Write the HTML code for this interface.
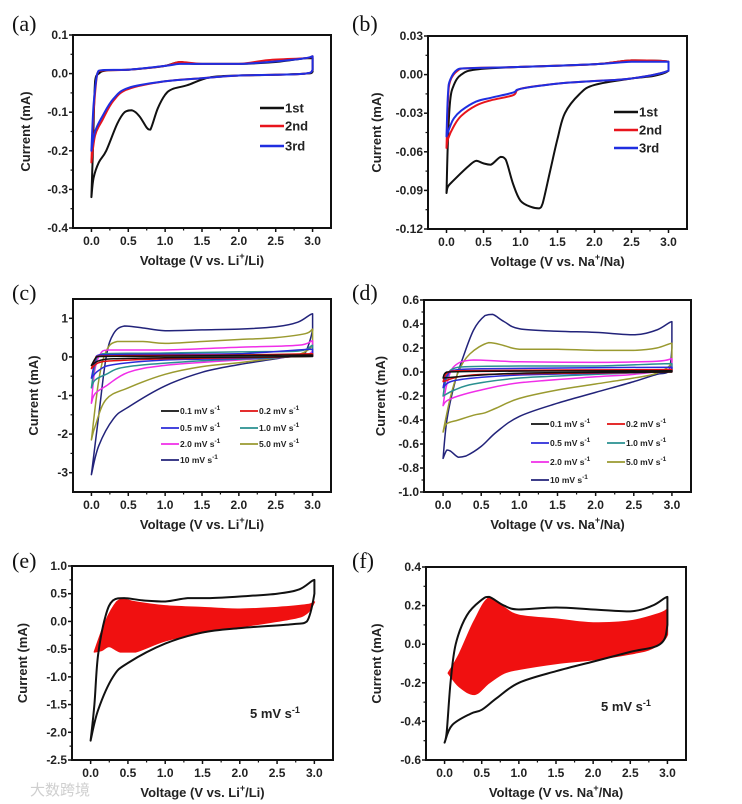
<!DOCTYPE html>
<html><head><meta charset="utf-8"><style>
html,body{margin:0;padding:0;background:#fff;}
svg{display:block;font-family:"Liberation Sans",sans-serif;}
.tk{font-size:12px;font-weight:bold;fill:#222;}
.ttl{font-size:13px;font-weight:bold;fill:#222;}
.lg{font-size:13px;font-weight:bold;fill:#222;}
.lg2{font-size:8.5px;font-weight:bold;fill:#222;}
.pl{font-family:"Liberation Serif",serif;font-size:22px;fill:#111;}
</style></head><body>
<svg id="fig" width="742" height="804" viewBox="0 0 742 804">
<text x="30" y="795" font-family="'Liberation Sans','Noto Sans CJK SC',sans-serif" font-size="15" fill="#cfcfcf">大数跨境</text>
</svg>
<script>
// ---------- data ----------
// panel a
const aFirstV=[0,0.02,0.05,0.1,0.2,0.5,0.8,1.0,1.2,1.4,2.0,2.5,2.9,3.0,3.0,2.9,2.5,2.0,1.6,1.3,1.1,1.0,0.9,0.8,0.75,0.65,0.55,0.45,0.35,0.2,0.1,0.03,0];
const aFirstI=[-0.32,-0.2,-0.02,0,0.008,0.01,0.015,0.02,0.03,0.025,0.025,0.03,0.04,0.04,0.005,0,-0.003,-0.005,-0.01,-0.03,-0.04,-0.055,-0.09,-0.145,-0.14,-0.11,-0.095,-0.1,-0.13,-0.2,-0.23,-0.27,-0.32];
const aSecondV=[0,0.03,0.08,0.15,0.5,1.0,1.2,1.5,2.0,2.4,2.9,3.0,3.0,2.9,2.5,2.0,1.5,1.0,0.5,0.3,0.15,0.05,0];
const aSecondI=[-0.23,-0.1,0,0.008,0.01,0.02,0.03,0.025,0.025,0.035,0.04,0.045,0.01,0,-0.003,-0.005,-0.012,-0.02,-0.04,-0.07,-0.12,-0.16,-0.23];
const aThirdV=[0,0.03,0.08,0.15,0.5,1.0,1.2,1.5,2.0,2.4,2.9,3.0,3.0,2.9,2.5,2.0,1.5,1.0,0.5,0.3,0.15,0.05,0];
const aThirdI=[-0.2,-0.08,0,0.009,0.01,0.02,0.025,0.025,0.025,0.03,0.04,0.045,0.01,0,-0.003,-0.005,-0.012,-0.02,-0.037,-0.065,-0.11,-0.15,-0.2];
// panel b
const bFirstV=[0,0.02,0.05,0.1,0.2,0.4,1.0,2.0,2.5,3.0,3.0,2.8,2.5,2.0,1.8,1.6,1.5,1.4,1.3,1.25,1.15,1.0,0.9,0.8,0.73,0.6,0.5,0.4,0.3,0.1,0.02,0];
const bFirstI=[-0.092,-0.05,-0.02,-0.008,0,0.004,0.006,0.008,0.011,0.01,0.003,-0.001,-0.003,-0.008,-0.015,-0.03,-0.05,-0.075,-0.1,-0.104,-0.103,-0.098,-0.085,-0.066,-0.064,-0.07,-0.069,-0.067,-0.071,-0.082,-0.087,-0.092];
const bSecondV=[0,0.02,0.05,0.15,0.3,1,2,2.5,3,3,2.5,2,1.5,1.0,0.9,0.6,0.4,0.2,0.1,0.02,0];
const bSecondI=[-0.057,-0.02,-0.005,0.003,0.005,0.006,0.008,0.011,0.01,0.003,-0.003,-0.005,-0.007,-0.011,-0.016,-0.02,-0.024,-0.032,-0.04,-0.05,-0.057];
const bThirdV=[0,0.02,0.05,0.15,0.3,1,2,2.5,3,3,2.5,2,1.5,1.0,0.9,0.6,0.4,0.2,0.1,0.05,0];
const bThirdI=[-0.048,-0.015,-0.004,0.004,0.005,0.006,0.008,0.01,0.01,0.003,-0.003,-0.005,-0.007,-0.011,-0.014,-0.018,-0.021,-0.028,-0.034,-0.04,-0.048];
// panel c
const c10V=[0,0.1,0.2,0.3,0.45,0.7,1.0,1.5,2.0,2.5,2.8,3.0,3.0,2.9,2.8,2.5,2.0,1.5,1.0,0.5,0.3,0.1,0];
const c10I=[-3.05,-1.5,0,0.6,0.8,0.75,0.68,0.7,0.72,0.78,0.9,1.12,0.7,0.1,0.05,-0.05,-0.2,-0.4,-0.75,-1.3,-1.6,-2.3,-3.05];
const c5V=[0,0.1,0.2,0.35,0.7,1.0,1.5,2.0,2.5,2.9,3.0,3.0,2.8,2.5,2.0,1.5,1.0,0.5,0.2,0.05,0];
const c5I=[-2.15,-0.6,0.15,0.4,0.4,0.35,0.4,0.45,0.5,0.6,0.72,0.3,0.05,-0.03,-0.15,-0.25,-0.45,-0.8,-1.1,-1.8,-2.15];
const c2V=[0,0.05,0.15,0.3,1,2,2.8,3.0,3,2.8,2.0,1.0,0.5,0.2,0.05,0];
const c2I=[-1.2,-0.3,0.15,0.18,0.18,0.25,0.3,0.42,0.15,0.02,-0.08,-0.22,-0.4,-0.75,-0.95,-1.2];
const c1V=[0,0.05,0.15,1.0,2.0,2.8,3.0,3,2.5,1.5,0.5,0.2,0.05,0];
const c1I=[-0.8,-0.2,0.08,0.1,0.13,0.15,0.3,0.08,-0.02,-0.1,-0.25,-0.45,-0.6,-0.8];
const c05V=[0,0.05,0.1,1,2,3.0,3,2,1,0.3,0.1,0];
const c05I=[-0.55,-0.1,0.05,0.07,0.08,0.2,0.05,-0.04,-0.08,-0.2,-0.35,-0.55];
const c02V=[0,0.05,0.1,1,2,3,3,2,1,0.3,0.1,0];
const c02I=[-0.3,-0.05,0.02,0.04,0.05,0.08,0.02,-0.02,-0.05,-0.1,-0.15,-0.3];
const c01V=[0,0.05,0.1,1,3,3,1,0.3,0.1,0];
const c01I=[-0.22,-0.05,0.01,0.02,0.05,0.01,-0.02,-0.05,-0.1,-0.22];
// panel d
const d10V=[0,0.05,0.15,0.25,0.4,0.55,0.65,0.8,1.0,1.5,2.0,2.5,2.8,3.0,3.0,2.95,2.8,2.5,2.0,1.5,1.0,0.7,0.5,0.3,0.2,0.1,0.05,0];
const d10I=[-0.72,-0.4,-0.1,0.1,0.35,0.47,0.48,0.42,0.36,0.34,0.33,0.31,0.35,0.42,0.2,0,-0.02,-0.08,-0.17,-0.26,-0.37,-0.5,-0.62,-0.7,-0.71,-0.66,-0.65,-0.72];
const d5V=[0,0.1,0.2,0.35,0.6,0.8,1.0,1.5,2.0,2.5,2.8,3.0,3,2.8,2.5,2.0,1.5,1.0,0.7,0.55,0.4,0.2,0.05,0];
const d5I=[-0.5,-0.2,0,0.15,0.245,0.22,0.19,0.19,0.18,0.18,0.2,0.24,0.08,-0.01,-0.05,-0.1,-0.15,-0.22,-0.3,-0.34,-0.36,-0.4,-0.43,-0.5];
const d2V=[0,0.05,0.15,0.4,1,2,2.8,3,3,2.5,2,1,0.5,0.2,0.05,0];
const d2I=[-0.28,-0.1,0.05,0.1,0.085,0.08,0.09,0.11,0.03,-0.02,-0.04,-0.09,-0.15,-0.2,-0.24,-0.28];
const d1V=[0,0.05,0.2,1,2,3,3,2,1,0.4,0.15,0];
const d1I=[-0.2,-0.05,0.04,0.05,0.05,0.07,0.01,-0.02,-0.05,-0.1,-0.15,-0.2];
const d05V=[0,0.05,0.2,1,3,3,2,1,0.4,0.1,0];
const d05I=[-0.13,-0.03,0.02,0.03,0.04,0.005,-0.01,-0.025,-0.05,-0.08,-0.13];
const d02V=[0,0.05,0.2,3,3,1,0.3,0];
const d02I=[-0.08,-0.01,0.01,0.02,0,-0.015,-0.03,-0.08];
const d01V=[0,0.05,3,3,1,0];
const d01I=[-0.05,0,0.01,0,-0.01,-0.05];
// panel e
const eBlackV=[0,0.05,0.1,0.2,0.3,0.45,0.7,1.0,1.3,1.6,2.0,2.5,2.8,3.0,3.0,2.9,2.7,2.0,1.5,1.0,0.5,0.3,0.1,0];
const eBlackI=[-2.15,-1.5,-0.6,0.1,0.38,0.42,0.38,0.36,0.42,0.42,0.45,0.5,0.58,0.75,0.5,0,-0.05,-0.12,-0.2,-0.4,-0.75,-1.0,-1.6,-2.15];
const eRedV=[0.05,0.2,0.35,0.45,0.6,1.0,1.5,2.0,2.5,2.9,3.0,3.0,2.9,2.7,2.0,1.5,1.0,0.6,0.4,0.25,0.15,0.05];
const eRedI=[-0.55,0,0.35,0.4,0.35,0.28,0.25,0.22,0.25,0.3,0.35,0.35,0.15,0.05,-0.1,-0.2,-0.35,-0.55,-0.55,-0.45,-0.52,-0.55];
// panel f
const fBlackV=[0,0.03,0.08,0.15,0.3,0.5,0.6,0.8,1.0,1.5,2.0,2.5,2.8,3.0,3.0,2.9,2.5,2.0,1.5,1.0,0.7,0.5,0.35,0.1,0];
const fBlackI=[-0.51,-0.45,-0.2,0,0.15,0.23,0.245,0.2,0.18,0.19,0.18,0.17,0.2,0.245,0.1,0,-0.04,-0.09,-0.14,-0.2,-0.28,-0.34,-0.36,-0.42,-0.51];
const fRedV=[0.05,0.2,0.4,0.6,0.8,1.0,1.5,2.0,2.5,2.9,3.0,3.0,2.8,2.5,2.0,1.5,1.0,0.8,0.6,0.4,0.2,0.05];
const fRedI=[-0.15,-0.05,0.12,0.24,0.19,0.15,0.13,0.11,0.12,0.16,0.18,0.05,-0.02,-0.05,-0.08,-0.1,-0.13,-0.15,-0.2,-0.26,-0.22,-0.15];
const xTickLabels=["0.0","0.5","1.0","1.5","2.0","2.5","3.0"];
const aYTicks=[0.1,0.0,-0.1,-0.2,-0.3,-0.4];
const bYTicks=[0.03,0.00,-0.03,-0.06,-0.09,-0.12];
const cYTicks=[1,0,-1,-2,-3];
const dYTicks=[0.6,0.4,0.2,0.0,-0.2,-0.4,-0.6,-0.8,-1.0];
const eYTicks=[1.0,0.5,0.0,-0.5,-1.0,-1.5,-2.0,-2.5];
const fYTicks=[0.4,0.2,0.0,-0.2,-0.4,-0.6];
const cLegend=["0.1 mV s","0.2 mV s","0.5 mV s","1.0 mV s","2.0 mV s","5.0 mV s","10 mV s"];

// ---------- drawing ----------
const NS="http://www.w3.org/2000/svg";
const svg=document.getElementById('fig');
function mk(tag,attrs,parent){const e=document.createElementNS(NS,tag);for(const k in attrs)e.setAttribute(k,attrs[k]);(parent||svg).appendChild(e);return e;}
const clamp=(v,a,b)=>Math.max(Math.min(a,b),Math.min(Math.max(a,b),v));
function smooth(P,closed){
  let d='M'+P[0][0].toFixed(1)+','+P[0][1].toFixed(1);
  const n=P.length,t=0.35;
  for(let i=0;i<n-1;i++){
    const p0=P[Math.max(0,i-1)],p1=P[i],p2=P[i+1],p3=P[Math.min(n-1,i+2)];
    let c1=[p1[0]+(p2[0]-p0[0])*t/2,p1[1]+(p2[1]-p0[1])*t/2];
    let c2=[p2[0]-(p3[0]-p1[0])*t/2,p2[1]-(p3[1]-p1[1])*t/2];
    c1=[clamp(c1[0],p1[0],p2[0]),clamp(c1[1],p1[1],p2[1])];
    c2=[clamp(c2[0],p1[0],p2[0]),clamp(c2[1],p1[1],p2[1])];
    d+='C'+c1[0].toFixed(1)+','+c1[1].toFixed(1)+' '+c2[0].toFixed(1)+','+c2[1].toFixed(1)+' '+p2[0].toFixed(1)+','+p2[1].toFixed(1);
  }
  return d+(closed?'Z':'');
}
function panel(p){
  const g=mk('g',{});
  
  
  const sx=v=>p.x0+(v-(-0.25))/(3.5)*(p.x1-p.x0);
  const sy=v=>p.y1-(v-p.ymin)/(p.ymax-p.ymin)*(p.y1-p.y0);
  p.sx=sx;p.sy=sy;p.g=g;
  xTickLabels.forEach((t,i)=>{const v=i*0.5;const X=sx(v);
    mk('line',{x1:X,x2:X,y1:p.y1,y2:p.y1+4,stroke:'#111','stroke-width':1.5},g);
    if(i<6)mk('line',{x1:sx(v+0.25),x2:sx(v+0.25),y1:p.y1,y2:p.y1+2.5,stroke:'#111','stroke-width':1.2},g);
    const tx=mk('text',{x:X,y:p.y1+17,'text-anchor':'middle',class:'tk'},g);tx.textContent=t;
    
    
  });
  p.yt.forEach((v,i)=>{const Y=sy(v);
    mk('line',{x1:p.x0-4,x2:p.x0,y1:Y,y2:Y,stroke:'#111','stroke-width':1.5},g);
    if(i<p.yt.length-1){const m=(v+p.yt[i+1])/2;mk('line',{x1:p.x0-2.5,x2:p.x0,y1:sy(m),y2:sy(m),stroke:'#111','stroke-width':1.2},g);}
    const tx=mk('text',{x:p.x0-5,y:Y+4,'text-anchor':'end',class:'tk'},g);tx.textContent=p.fmt(v);
    
    
  });
  (p.fills||[]).forEach(s=>{
    const P=s.v.map((v,i)=>[sx(v),sy(s.i[i])]);
    const pg=mk('path',{d:smooth(P,true),fill:s.c,stroke:s.c,'stroke-width':1.5,'stroke-linejoin':'round'},g);
    
    
  });
  p.series.forEach(s=>{
    const P=s.v.map((v,i)=>[sx(v),sy(s.i[i])]);
    const pl=mk('path',{d:smooth(P,false),fill:'none',stroke:s.c,'stroke-width':s.w||2,'stroke-linejoin':'round','stroke-linecap':'round'},g);
    
    
  });
  mk('rect',{x:p.x0,y:p.y0,width:p.x1-p.x0,height:p.y1-p.y0,fill:'none',stroke:'#111','stroke-width':2},g);
  const xt=mk('text',{x:(p.x0+p.x1)/2,y:p.y1+37,'text-anchor':'middle',class:'ttl'},g);
  xt.innerHTML='Voltage (V vs. '+p.ion+'<tspan dy="-6" font-size="9">+</tspan><tspan dy="6">/'+p.ion+')</tspan>';
  
  
  const yt=mk('text',{x:0,y:0,'text-anchor':'middle',class:'ttl',transform:'translate('+p.ytx+','+((p.y0+p.y1)/2)+') rotate(-90)'},g);
  yt.textContent='Current (mA)';
  
  
  const lb=mk('text',{x:p.lx,y:p.ly,class:'pl'},g);lb.textContent='('+p.id+')';
  
  
  return p;
}
const f2=v=>v.toFixed(2), f1=v=>v.toFixed(1), f0=v=>v.toFixed(0);
const blk='#111',red='#e8141c',blu='#1f2ee0';
const cc={k:'#111',r:'#e01010',b:'#2b2bd8',t:'#2a9090',m:'#f02ee8',o:'#9a9a30',n:'#22237a'};

const A=panel({id:'a',x0:73,x1:331,y0:35,y1:228,ymin:-0.4,ymax:0.1,yt:aYTicks,fmt:f1,ion:'Li',ytx:30,lx:12,ly:31,
 series:[{name:'curve-1st',v:aFirstV,i:aFirstI,c:blk},{name:'curve-2nd',v:aSecondV,i:aSecondI,c:red},{name:'curve-3rd',v:aThirdV,i:aThirdI,c:blu}]});
const B=panel({id:'b',x0:428,x1:687,y0:36,y1:229,ymin:-0.12,ymax:0.03,yt:bYTicks,fmt:f2,ion:'Na',ytx:381,lx:352,ly:31,
 series:[{name:'curve-1st',v:bFirstV,i:bFirstI,c:blk},{name:'curve-2nd',v:bSecondV,i:bSecondI,c:red},{name:'curve-3rd',v:bThirdV,i:bThirdI,c:blu}]});
const C=panel({id:'c',x0:73,x1:331,y0:299,y1:492,ymin:-3.5,ymax:1.5,yt:cYTicks,fmt:f0,ion:'Li',ytx:38,lx:12,ly:300,
 series:[{name:'curve-10mv',v:c10V,i:c10I,c:cc.n,w:1.5},{name:'curve-5mv',v:c5V,i:c5I,c:cc.o,w:1.5},{name:'curve-2mv',v:c2V,i:c2I,c:cc.m,w:1.5},{name:'curve-1mv',v:c1V,i:c1I,c:cc.t,w:1.5},{name:'curve-0.5mv',v:c05V,i:c05I,c:cc.b,w:1.5},{name:'curve-0.2mv',v:c02V,i:c02I,c:cc.r,w:1.5},{name:'curve-0.1mv',v:c01V,i:c01I,c:cc.k,w:1.5}]});
const D=panel({id:'d',x0:424,x1:691,y0:300,y1:492,ymin:-1.0,ymax:0.6,yt:dYTicks,fmt:f1,ion:'Na',ytx:385,lx:352,ly:300,
 series:[{name:'curve-10mv',v:d10V,i:d10I,c:cc.n,w:1.5},{name:'curve-5mv',v:d5V,i:d5I,c:cc.o,w:1.5},{name:'curve-2mv',v:d2V,i:d2I,c:cc.m,w:1.5},{name:'curve-1mv',v:d1V,i:d1I,c:cc.t,w:1.5},{name:'curve-0.5mv',v:d05V,i:d05I,c:cc.b,w:1.5},{name:'curve-0.2mv',v:d02V,i:d02I,c:cc.r,w:1.5},{name:'curve-0.1mv',v:d01V,i:d01I,c:cc.k,w:1.5}]});
const E=panel({id:'e',x0:72,x1:333,y0:566,y1:760,ymin:-2.5,ymax:1.0,yt:eYTicks,fmt:f1,ion:'Li',ytx:27,lx:12,ly:568,
 fills:[{name:'red-fill-region',v:eRedV,i:eRedI,c:'#f01010'}],
 series:[{name:'curve-5mv',v:eBlackV,i:eBlackI,c:blk}]});
const F=panel({id:'f',x0:426,x1:686,y0:567,y1:760,ymin:-0.6,ymax:0.4,yt:fYTicks,fmt:f1,ion:'Na',ytx:381,lx:352,ly:568,
 fills:[{name:'red-fill-region',v:fRedV,i:fRedI,c:'#f01010'}],
 series:[{name:'curve-5mv',v:fBlackV,i:fBlackI,c:blk}]});

function leg3(p,lx,ys){const labs=['1st','2nd','3rd'],cols=[blk,red,blu];
  labs.forEach((t,k)=>{const g=mk('g',{},p.g);
    
    
    mk('line',{x1:lx,x2:lx+24,y1:ys[k],y2:ys[k],stroke:cols[k],'stroke-width':2.5},g);
    const tx=mk('text',{x:lx+25,y:ys[k]+4.5,class:'lg'},g);tx.textContent=t;});
}
leg3(A,260,[108,126,146]);
leg3(B,614,[112,130,148]);
function leg7(p,c1,c2,ys){const cols=[cc.k,cc.r,cc.b,cc.t,cc.m,cc.o,cc.n];
  cLegend.forEach((t,k)=>{const col=k%2,row=Math.floor(k/2);const lx=col?c2:c1;const y=ys[row];
    const g=mk('g',{},p.g);
    
    
    mk('line',{x1:lx,x2:lx+18,y1:y,y2:y,stroke:cols[k],'stroke-width':1.8},g);
    const tx=mk('text',{x:lx+19,y:y+3,class:'lg2'},g);tx.innerHTML=t+'<tspan dy="-4" font-size="6.5">-1</tspan>';});
}
leg7(C,161,240,[411,428,444,460]);
leg7(D,531,607,[424,443,462,480]);
function note(p,x,y){const tx=mk('text',{x:x,y:y,class:'lg'},p.g);tx.innerHTML='5 mV s<tspan dy="-5" font-size="9">-1</tspan>';
  
  }
note(E,250,718);
note(F,601,711);
</script>
</body></html>
